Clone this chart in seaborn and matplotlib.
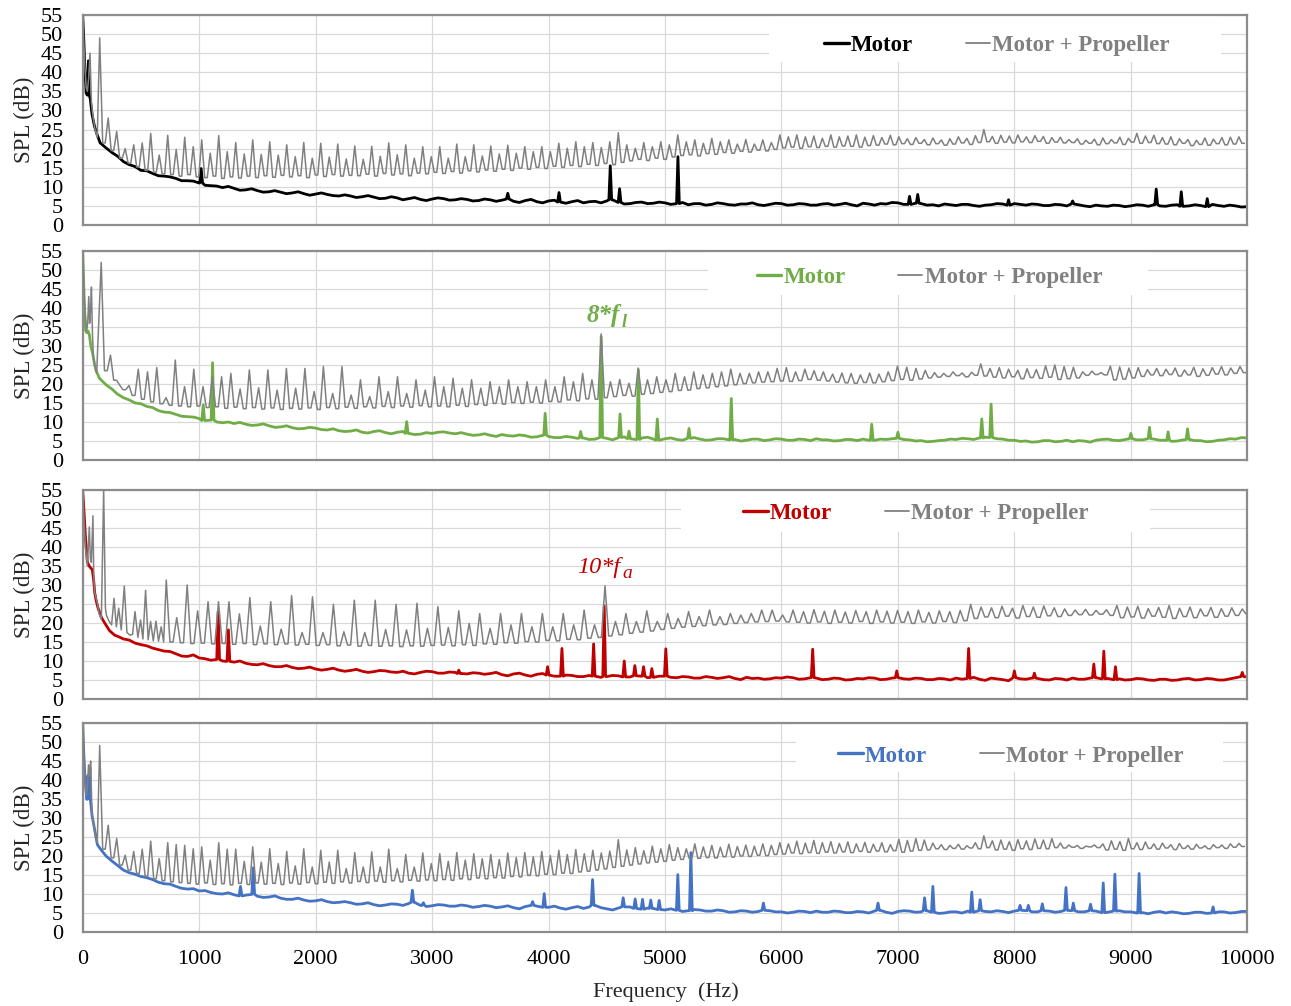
import numpy as np
import pandas as pd
import matplotlib
matplotlib.use("Agg")
import matplotlib.pyplot as plt
import seaborn as sns
from matplotlib.patches import Rectangle
from matplotlib.lines import Line2D

# ---------------------------------------------------------------- data
x_ticks = list(range(0, 10001, 1000))
y_ticks = list(range(0, 56, 5))
series_names = ["Motor", "Motor + Propeller"]
annot_text = [None, ("8*f", "l"), ("10*f", "a"), None]

# motor baseline samples every 50 Hz from 300 Hz to 10000 Hz (20 per row = 1000 Hz)
# ---------- panel 1 (black)
motor1_low_f = [0, 10, 20, 30, 40, 49, 57, 65, 80, 100, 120, 150, 200, 250]
motor1_low_db = [55, 48, 40, 34.5, 34, 43, 34, 33, 29, 26, 24, 21.5, 20.2, 19.0]
motor1_base = [18.0, 16.6, 15.8, 15.3, 14.3, 14.2, 13.5, 12.9, 12.8, 12.6, 12.2, 11.6, 11.6, 11.5, 11.0, 10.4, 10.3, 10.2, 9.8, 10.1,
               9.6, 9.1, 9.2, 9.5, 9.0, 8.6, 8.7, 9.0, 8.6, 8.2, 8.4, 8.7, 8.2, 7.8, 8.1, 8.4, 8.0, 7.7, 7.6, 7.9,
               7.6, 7.2, 7.4, 7.7, 7.3, 6.9, 7.0, 7.4, 7.1, 6.6, 6.9, 7.2, 6.7, 6.4, 6.8, 7.1, 6.9, 6.5, 6.6, 6.9,
               6.7, 6.3, 6.4, 6.8, 6.6, 6.2, 6.5, 6.8, 6.2, 5.9, 6.4, 6.7, 6.1, 5.8, 6.3, 6.5, 6.0, 5.7, 6.1, 6.4,
               5.8, 6.1, 6.2, 5.8, 6.3, 6.6, 5.9, 5.5, 5.6, 5.9, 6.0, 5.6, 5.7, 6.0, 5.8, 5.4, 5.6, 5.9, 5.3, 5.6,
               5.6, 5.2, 5.4, 5.8, 5.6, 5.3, 5.2, 5.5, 5.5, 5.8, 5.3, 5.1, 5.4, 5.7, 5.6, 5.2, 5.3, 5.6, 5.5, 5.2,
               5.2, 5.5, 5.6, 5.2, 5.4, 5.7, 5.3, 5.0, 5.7, 5.5, 5.2, 5.6, 5.5, 5.9, 5.8, 5.4, 5.4, 5.7, 5.6, 5.2,
               5.3, 5.0, 5.5, 5.3, 5.1, 5.4, 5.4, 5.1, 4.9, 5.2, 5.3, 5.6, 5.5, 5.2, 5.6, 5.4, 5.2, 5.5, 5.4, 5.1,
               5.1, 5.4, 5.3, 5.0, 5.5, 5.3, 5.0, 4.8, 5.2, 5.0, 4.9, 5.2, 5.1, 4.8, 5.0, 5.3, 5.2, 4.9, 5.3, 5.0,
               4.9, 5.2, 5.3, 4.9, 5.0, 5.3, 5.1, 4.8, 5.4, 5.1, 4.9, 5.2, 5.0, 4.7, 4.8]
motor1_peak_f = [1017, 3650, 4090, 4530, 4610, 5111, 7100, 7170, 7950, 8500, 9218, 9433, 9656]
motor1_peak_db = [14.8, 8.3, 8.5, 15.5, 9.5, 17.9, 7.5, 8.0, 6.6, 6.3, 9.4, 8.7, 6.9]

prop1_low_f = [0, 10, 20, 30, 40, 50, 63, 75, 90, 106, 125]
prop1_low_db = [55, 47, 41, 36, 35, 38, 45, 32, 28, 25, 23]
prop1_f0 = 73.0
prop1_k0 = 2
prop1_peaks = [49, 28, 24.5, 20, 21, 21.5, 24, 18.3, 23.5, 19.8,
               23, 20.5, 22.3, 18.8, 23.4, 19.2, 21.6, 18.6, 22.3, 18.5,
               21.8, 18.3, 21, 17.9, 21.6, 17.5, 21.4, 17.8, 21.2, 17.3,
               20.7, 17.2, 20.6, 18, 21.5, 18.4, 21, 17.5, 20.5, 17.9,
               20.5, 17.5, 21.2, 17.9, 21, 18.1, 20.7, 18.6, 20.9, 18.8,
               20.5, 19.2, 20.5, 19.2, 21.4, 20.1, 21.8, 20.5, 21.6, 20.3,
               21.8, 24.2, 21, 20.1, 21.6, 20.5, 21.8, 21, 23.6, 21.8,
               22.3, 21.4, 22.7, 21.8, 22.3, 21.2, 22.4, 21.2, 22.3, 21.6,
               23.6, 23.1, 23.6, 23.1, 23.3, 22.7, 23.6, 23.1, 23.3, 23.6,
               23.0, 23.4, 22.9, 23.5, 23.1, 22.6, 22.9, 22.4, 22.8, 22.3,
               22.6, 23.1, 22.7, 23.4, 25.0, 23.2, 23.5, 23.3, 23.6, 23.1,
               23.4, 23.2, 22.9, 23.0, 22.4, 22.6, 22.2, 22.5, 22.8, 22.4,
               23.0, 22.7, 24.0, 23.3, 23.5, 22.9, 23.1, 22.6, 22.4, 22.2,
               22.8, 22.5, 22.9, 23.0, 23.1]
prop1_troughs = [21.5, 19.5, 17.5, 16.2, 15.2, 14.3, 13.8, 13.4, 13.2, 12.8,
                 13.2, 12.6, 12.4, 12.8, 12.2, 12.6, 12.3, 12.8, 12.4, 12.9,
                 12.5, 13.0, 12.6, 12.9, 12.4, 13.1, 12.7, 13.2, 12.8, 13.0,
                 12.9, 13.3, 12.8, 13.5, 13.1, 13.4, 12.9, 13.6, 13.4, 13.8,
                 13.5, 14.0, 13.6, 14.2, 13.9, 14.4, 14.1, 14.6, 14.3, 14.9,
                 14.6, 15.1, 14.8, 15.4, 15.1, 15.6, 15.3, 15.9, 15.6, 16.1,
                 15.8, 16.4, 16.8, 17.2, 16.9, 17.5, 17.2, 17.8, 18.2, 18.4,
                 18.1, 18.7, 18.5, 19.0, 18.8, 19.3, 19.1, 19.6, 19.4, 19.8,
                 20.2, 20.4, 20.1, 20.5, 20.3, 20.6, 20.4, 20.7, 20.6, 20.4,
                 20.8, 20.9, 21.2, 21.0, 21.3, 21.1, 21.4, 21.0, 21.3, 20.9,
                 21.2, 21.5, 21.1, 21.6, 21.8, 21.4, 21.7, 21.5, 21.8, 21.6,
                 21.9, 21.4, 21.7, 21.5, 21.6, 21.2, 21.4, 21.0, 21.3, 21.5,
                 21.1, 21.7, 21.4, 21.6, 21.3, 21.2, 21.0, 21.4, 20.8, 21.1,
                 20.9, 21.3, 21.0, 21.2, 21.4]

# ---------- panel 2 (green)
motor2_low_f = [0, 8, 15, 25, 35, 45, 57, 70, 86, 100, 115, 144, 200, 250]
motor2_low_db = [55, 47, 40, 34, 33.5, 34, 33, 30, 28, 25.5, 23.5, 21.5, 19.8, 18.7]
motor2_base = [17.3, 16.4, 15.8, 15.0, 14.8, 14.1, 13.8, 13.0, 12.6, 12.5, 12.0, 11.5, 11.4, 11.3, 10.9, 10.4, 10.5, 10.0, 9.8, 10.0,
               9.6, 9.9, 9.4, 9.1, 9.2, 9.5, 9.0, 8.6, 8.7, 9.0, 8.5, 8.2, 8.3, 8.6, 8.4, 8.0, 7.9, 8.2, 7.7, 7.5,
               7.6, 7.9, 7.3, 7.1, 7.5, 7.7, 7.2, 6.9, 7.3, 7.5, 7.0, 6.7, 6.8, 7.2, 7.0, 7.3, 7.4, 7.1, 6.9, 7.2,
               6.8, 6.5, 6.6, 6.9, 6.5, 6.2, 6.7, 6.4, 6.3, 6.6, 6.4, 6.0, 6.1, 6.5, 6.2, 5.9, 5.9, 6.2, 6.0, 5.7,
               5.8, 5.4, 5.5, 5.9, 5.7, 5.3, 5.9, 6.1, 5.6, 5.4, 5.8, 6.0, 5.5, 5.2, 5.6, 5.8, 5.4, 5.2, 5.7, 5.9,
               5.5, 5.2, 5.3, 5.6, 5.6, 5.3, 5.4, 5.0, 5.2, 5.5, 5.5, 5.1, 5.3, 5.6, 5.5, 5.2, 5.2, 5.5, 5.4, 5.1,
               5.6, 5.3, 5.3, 5.0, 5.1, 5.4, 5.4, 5.1, 5.5, 5.2, 5.2, 5.5, 5.4, 5.6, 5.7, 5.4, 5.3, 5.0, 5.1, 4.8,
               4.9, 5.1, 5.2, 5.5, 5.4, 5.7, 5.6, 5.4, 5.8, 6.0, 5.9, 5.6, 5.5, 5.2, 5.2, 4.9, 5.0, 4.7, 4.8, 5.1,
               5.1, 4.8, 4.9, 5.2, 4.8, 5.1, 5.0, 4.7, 5.2, 5.4, 5.5, 5.2, 5.1, 5.4, 5.6, 5.3, 5.3, 5.6, 5.5, 5.2,
               5.2, 4.9, 5.0, 5.3, 5.4, 5.1, 5.1, 4.8, 4.9, 5.2, 5.3, 5.6, 5.5, 5.9, 5.8]
motor2_peak_f = [1035, 1115, 2782, 3971, 4276, 4452, 4614, 4691, 4771, 4934, 5206, 5569,
                 6775, 7000, 7720, 7800, 9000, 9160, 9320, 9487]
motor2_peak_db = [14.5, 25.6, 10.1, 12.3, 7.5, 32.5, 12.1, 7.6, 23.8, 10.8, 8.3, 16.2,
                  9.4, 7.3, 10.8, 14.7, 7.0, 8.6, 7.4, 8.2]

prop2_low_f = [0, 8, 15, 25, 34, 43, 52, 60, 68, 75, 84, 92, 105, 120]
prop2_low_db = [55, 48, 42, 37, 34, 36, 43, 36, 40, 45.5, 33, 27, 24.5, 23]
prop2_f0 = 79.5
prop2_k0 = 2
prop2_peaks = [52, 27.6, 19.7, 19.6, 23.9, 23.2, 24.3, 16.4, 26.3, 19.3,
               23.9, 19.3, 22.0, 21.9, 22.8, 18.7, 23.7, 19.0, 23.7, 18.4,
               24.1, 18.9, 24.1, 18.0, 24.6, 17.5, 24.6, 17.1, 21.1, 16.7,
               21.9, 18.0, 21.9, 17.5, 21.1, 18.4, 21.9, 19.3, 21.5, 18.9,
               21.1, 18.9, 20.6, 19.3, 21.1, 19.3, 20.6, 19.3, 21.1, 19.3,
               21.9, 20.6, 22.8, 21.1, 33.2, 20.6, 21.2, 20.2, 24.2, 21.1,
               21.9, 21.1, 22.8, 21.9, 23.2, 22.4, 22.8, 23.2, 23.9, 22.8,
               22.8, 23.2, 23.2, 24.1, 24.3, 23.2,
               23.9, 23.5, 23.2, 22.6, 22.9, 22.8, 22.4, 22.9, 22.6, 23.2,
               24.7, 24.4, 24.1, 23.6, 23.0, 22.8, 23.2, 22.9, 23.1, 25.3,
               24.1, 24.3, 23.9, 23.6, 24.0, 23.8, 24.8, 25.0, 24.6, 24.4,
               23.2, 23.4, 23.0, 24.7, 24.5, 24.2, 24.3, 23.8, 24.1, 23.9,
               24.2, 23.7, 24.4, 24.0, 24.3, 24.6, 24.2, 24.6]
prop2_troughs = [23.5, 21, 18.5, 17, 16, 15.3, 14.8, 14.4, 14.2, 14.0,
                 14.2, 13.8, 14.0, 13.6, 13.9, 13.5, 13.8, 13.4, 13.7, 13.3,
                 13.6, 13.4, 13.7, 13.3, 13.8, 13.5, 13.9, 13.6, 14.0, 13.7,
                 14.1, 13.8, 14.2, 13.9, 14.3, 14.0, 14.2, 14.0, 14.4, 14.1,
                 14.6, 14.4, 14.9, 14.7, 15.1, 14.9, 15.2, 15.0, 15.4, 15.3,
                 15.8, 15.6, 16.1, 16.0, 16.4, 16.7, 17.0, 16.8, 17.3, 17.5,
                 17.8, 18.0, 18.3, 18.4, 18.8, 19.0, 19.3, 19.5, 19.8, 20.1,
                 20.3, 20.5, 20.6, 20.8, 20.7, 20.9, 21.2, 21.0, 20.8, 20.5,
                 20.3, 20.2, 20.4, 20.3, 20.6, 20.9, 21.2, 21.0, 21.3, 21.6,
                 21.8, 22.0, 22.2, 21.9, 22.3, 22.1, 21.8, 21.6, 21.9, 21.4,
                 21.7, 21.5, 21.8, 21.2, 21.4, 21.6, 22.3, 22.5, 22.4, 21.1,
                 21.3, 21.6, 22.0, 22.4, 22.2, 22.5, 22.1, 22.4, 22.0, 22.3,
                 22.6, 22.4, 22.8, 23.0]

# ---------- panel 3 (red)
motor3_low_f = [0, 10, 23, 40, 60, 83, 95, 103, 115, 131, 160, 189, 230, 274]
motor3_low_db = [55, 50, 43, 36, 34.8, 34, 31, 28, 26, 24, 21.5, 20, 18, 16.8]
motor3_base = [16.5, 15.8, 15.5, 14.7, 14.3, 14.0, 13.4, 13.0, 12.6, 12.5, 11.9, 11.3, 11.2, 11.6, 10.8, 10.6, 10.2, 10.4, 10.0, 9.9,
               9.7, 10.0, 9.4, 9.1, 9.0, 9.3, 8.8, 8.5, 8.5, 8.8, 8.3, 8.0, 8.1, 8.4, 7.9, 7.6, 7.8, 8.1, 7.6, 7.3,
               7.5, 7.8, 7.3, 7.0, 7.2, 7.5, 7.4, 7.1, 7.0, 7.3, 6.8, 6.6, 7.0, 7.3, 7.2, 6.8, 6.8, 7.1, 7.0, 6.7,
               6.6, 6.9, 6.8, 6.5, 6.7, 7.0, 6.4, 6.1, 6.6, 6.8, 6.3, 6.0, 6.5, 6.7, 6.3, 6.0, 6.0, 6.3, 6.2, 5.9,
               5.9, 6.2, 6.0, 5.7, 5.9, 6.2, 6.1, 5.8, 5.8, 6.1, 6.0, 5.6, 5.7, 6.0, 6.0, 5.7, 5.6, 5.9, 5.8, 5.5,
               5.5, 5.9, 5.7, 5.4, 5.6, 5.9, 5.4, 5.1, 5.7, 5.4, 5.5, 5.2, 5.3, 5.6, 5.5, 5.8, 5.6, 5.2, 5.3, 5.6,
               5.5, 5.1, 5.2, 5.5, 5.4, 5.0, 5.1, 5.4, 5.3, 5.6, 5.5, 5.1, 5.2, 5.5, 5.6, 5.3, 5.2, 5.5, 5.4, 5.1,
               5.1, 5.4, 5.3, 5.0, 5.5, 5.2, 5.4, 5.7, 5.2, 4.9, 5.5, 5.3, 5.1, 4.8, 5.6, 5.3, 5.2, 5.5, 5.4, 5.1,
               5.0, 5.4, 5.3, 5.0, 5.5, 5.2, 5.2, 5.5, 5.6, 5.3, 5.4, 5.1, 5.3, 5.0, 5.1, 5.4, 5.3, 5.0, 4.9, 5.2,
               5.2, 4.9, 5.0, 5.3, 5.4, 5.0, 5.1, 5.4, 5.3, 5.0, 5.0, 5.3, 5.6, 5.9, 5.8]
motor3_peak_f = [1163, 1251, 3229, 3992, 4115, 4387, 4478, 4650, 4741, 4816, 4887, 5007,
                 6268, 6990, 7607, 8000, 8172, 8682, 8768, 8868, 9957]
motor3_peak_db = [23.0, 18.2, 7.6, 8.5, 13.3, 14.5, 24.5, 10.0, 8.8, 8.5, 8.0, 13.2,
                  13.1, 7.4, 13.3, 7.4, 6.8, 9.2, 12.6, 8.5, 7.0]

prop3_low_f = [0, 10, 23, 40, 57, 66, 74, 88, 95, 103, 126, 140, 160, 180, 195, 203,
               226, 248, 269, 289, 309, 331, 357, 380, 406, 428, 449, 474, 497, 517,
               540, 562, 583, 606, 629, 651, 674, 695]
prop3_low_db = [55, 48, 40, 35, 45.3, 37, 36, 48.2, 32, 28, 25.2, 22.5, 21, 55, 24, 22.1,
                20.5, 19.5, 26.5, 19.0, 23.9, 18.2, 29.7, 17.5, 16.8, 17.0, 23.0, 16.2, 20.8, 15.8,
                28.6, 15.6, 20.4, 15.3, 20.5, 15.2, 19.0, 15.0]
prop3_f0 = 89.7
prop3_k0 = 8
prop3_peaks = [31.3, 21.4, 30.0, 23.2, 25.6, 25.6, 25.6, 22.4, 26.7, 19.2,
               25.6, 18.4, 27.2, 17.5, 26.9, 17.5, 24.9, 17.7, 26.0, 17.5,
               26.0, 18.3, 24.9, 18.2, 25.2, 18.6, 24.3, 18.8, 23.2, 19.9,
               22.5, 18.6, 22.5, 19.5, 22.5, 19.0, 22.5, 19.0, 22.5, 19.5,
               23.4, 19.5, 29.8, 20.4, 22.5, 20.4, 23.2, 20.4, 22.5, 21.2,
               23.0, 21.7, 23.4, 21.7, 22.5, 22.1, 22.5, 23.4, 23.4, 22.1,
               23.4, 23.0, 23.5, 23.1, 23.4, 22.9, 23.3, 23.0, 23.4, 23.1,
               23.3, 23.0, 23.4, 22.8, 23.2, 23.0, 23.3, 24.9, 24.2, 24.0,
               24.4, 23.9, 24.6, 24.2, 24.5, 24.0, 23.7, 23.4, 23.6, 23.3,
               23.5, 24.6, 24.2, 24.4, 23.8, 24.1, 24.6, 23.9, 24.2, 23.7,
               24.1, 23.8, 24.0, 23.7]
prop3_troughs = [15.0, 14.8, 14.6, 14.7, 14.5, 14.6, 14.4, 14.6, 14.3, 14.5,
                 14.3, 14.5, 14.2, 14.4, 14.1, 14.3, 14.0, 14.2, 13.9, 14.1,
                 13.9, 14.0, 13.8, 14.0, 13.9, 14.1, 14.2, 14.0, 14.3, 14.1,
                 14.5, 14.4, 14.8, 14.7, 15.1, 15.0, 15.4, 15.3, 15.7, 15.6,
                 16.0, 16.2, 16.6, 16.9, 17.3, 17.6, 17.9, 18.3, 18.6, 18.9,
                 19.1, 19.3, 19.5, 19.6, 19.9, 20.1, 20.3, 20.4, 20.5, 20.3,
                 20.2, 20.0, 20.3, 19.9, 20.2, 20.0, 20.4, 19.9, 20.3, 20.0,
                 20.2, 19.9, 20.3, 20.0, 20.4, 20.1, 20.6, 21.2, 21.6, 21.4,
                 21.8, 21.3, 21.7, 21.5, 21.9, 21.7, 22.0, 22.2, 22.1, 22.3,
                 22.0, 21.4, 21.6, 21.3, 21.8, 21.5, 21.2, 21.7, 21.4, 21.9,
                 21.5, 21.8, 22.0, 22.4]

# ---------- panel 4 (blue)
motor4_low_f = [0, 8, 17, 28, 37, 46, 55, 62, 66, 80, 103, 126, 146, 200, 250]
motor4_low_db = [55, 48, 42, 37, 34.9, 41.2, 35, 43.4, 35, 30.7, 26.8, 23, 22.1, 20.0, 18.7]
motor4_base = [17.5, 16.3, 15.6, 15.2, 14.6, 14.3, 13.8, 13.1, 12.7, 12.6, 12.0, 11.5, 11.3, 11.4, 10.8, 10.9, 10.4, 10.1, 10.0, 10.3,
               9.8, 9.5, 9.7, 9.9, 9.4, 9.1, 9.2, 9.5, 8.9, 8.6, 8.6, 8.9, 8.4, 8.1, 8.2, 8.5, 8.0, 7.7, 7.8, 8.0,
               7.7, 7.3, 7.4, 7.7, 7.2, 6.9, 7.1, 7.4, 7.3, 7.0, 7.5, 7.8, 7.0, 6.7, 6.9, 7.2, 7.1, 6.8, 6.8, 7.1,
               6.9, 6.5, 6.7, 7.0, 6.8, 6.4, 6.6, 6.9, 6.4, 6.1, 6.7, 7.0, 6.8, 6.5, 6.5, 6.8, 6.3, 6.0, 6.4, 6.7,
               6.2, 6.6, 7.0, 6.4, 6.1, 5.8, 6.3, 6.6, 6.6, 6.2, 6.0, 6.3, 6.2, 5.9, 5.8, 6.1, 5.7, 5.4, 5.6, 5.9,
               5.8, 5.5, 5.5, 5.8, 5.6, 5.2, 5.3, 5.6, 5.5, 5.2, 5.4, 5.7, 5.6, 5.3, 5.3, 5.0, 5.2, 5.5, 5.4, 5.1,
               5.5, 5.2, 5.2, 5.5, 5.4, 5.1, 5.1, 5.4, 5.3, 5.0, 5.5, 5.7, 5.2, 4.9, 5.4, 5.6, 5.5, 5.2, 5.3, 5.6,
               5.2, 4.9, 5.0, 5.3, 5.3, 5.0, 5.5, 5.2, 5.6, 5.4, 5.3, 5.6, 5.4, 5.1, 5.5, 5.7, 5.6, 5.3, 5.3, 5.6,
               5.5, 5.2, 5.4, 5.7, 5.6, 5.3, 5.3, 5.6, 5.5, 5.1, 5.2, 5.5, 5.6, 5.3, 5.3, 5.0, 5.1, 4.8, 5.2, 5.4,
               5.0, 5.3, 5.1, 4.8, 4.9, 5.2, 5.2, 4.9, 5.0, 5.3, 5.3, 5.0, 5.1, 5.4, 5.4]
motor4_peak_f = [1355, 1464, 2831, 2925, 3863, 3963, 4378, 4641, 4744, 4807, 4878, 4950,
                 5110, 5222, 5845, 6829, 7229, 7300, 7634, 7706, 8049, 8120, 8240, 8443,
                 8506, 8654, 8763, 8863, 9071, 9706]
motor4_peak_db = [12.0, 16.9, 11.0, 7.7, 8.0, 10.1, 13.8, 9.0, 8.7, 8.6, 8.4, 8.3,
                  15.1, 20.9, 7.6, 7.6, 9.0, 12.0, 10.5, 8.5, 7.0, 7.0, 7.4, 11.7,
                  7.6, 7.3, 12.9, 15.2, 15.4, 6.6]

prop4_low_f = [0, 10, 20, 30, 40, 50, 60, 68, 80, 95, 110, 125]
prop4_low_db = [55, 47, 40, 36, 38, 44, 41, 45, 31, 28, 25, 23.5]
prop4_f0 = 73.0
prop4_k0 = 2
prop4_peaks = [49.1, 28.1, 24.6, 20.2, 21.2, 21.8, 23.9, 19.3, 23.5, 23.0,
               22.8, 21.9, 22.4, 18.9, 23.5, 21.8, 21.8, 18.6, 22.4, 18.4,
               21.9, 18.0, 21.2, 17.4, 21.9, 17.1, 21.5, 18.4, 21.5, 16.7,
               20.9, 17.1, 21.1, 17.1, 21.8, 16.7, 20.4, 17.1, 20.8,
               18.0, 20.6, 18.6, 20.9, 18.9, 20.6, 19.3, 20.4, 19.1, 20.8,
               19.6, 20.9, 19.8, 21.2, 20.1, 21.5, 20.4, 21.7, 20.6, 21.5,
               20.8, 21.3, 24.3, 21.6, 22.2, 21.4, 22.6, 21.9, 23.0, 22.2,
               21.9, 23.2, 22.4, 22.8, 22.3, 23.1, 22.5, 22.9, 22.6, 23.2,
               22.8, 23.5, 23.2, 23.9, 23.4, 24.1, 23.5, 23.8, 23.3, 23.7,
               23.2, 23.6, 23.1, 23.5, 23.0, 24.4, 24.1, 24.6, 24.2, 23.4,
               23.0, 22.8, 23.1, 22.7, 23.5, 25.3, 24.0, 24.2, 23.8, 24.3,
               24.0, 24.5, 24.2, 24.6, 23.4, 22.9, 22.8, 22.6, 22.9, 23.2,
               24.0, 23.8, 24.6, 23.5, 23.7, 23.2, 23.4, 23.0, 23.3, 22.8,
               23.1, 22.7, 23.0, 22.9, 23.2, 23.3]
prop4_troughs = [21.8, 19.5, 17.6, 16.3, 15.4, 14.7, 14.0, 13.5, 13.2, 13.0,
                 12.8, 12.6, 12.9, 12.5, 12.7, 12.4, 12.8, 12.5, 12.9, 12.6,
                 12.8, 12.5, 12.9, 12.6, 13.0, 12.7, 13.1, 12.8, 13.2, 12.9,
                 13.3, 13.0, 13.4, 13.1, 13.5, 13.2, 13.6, 13.4, 13.7, 13.5,
                 13.8, 13.6, 14.0, 13.8, 14.2, 14.0, 14.3, 14.2, 14.6, 14.5,
                 14.9, 14.8, 15.2, 15.1, 15.5, 15.4, 15.8, 16.0, 16.3, 16.6,
                 17.0, 17.3, 17.6, 17.9, 18.2, 18.4, 18.6, 18.9, 19.1, 19.3,
                 19.4, 19.6, 19.5, 19.8, 19.7, 20.0, 19.9, 20.2, 20.1, 20.4,
                 20.5, 20.8, 20.6, 20.9, 20.7, 21.0, 20.8, 21.1, 20.9, 21.2,
                 21.0, 21.3, 21.1, 21.4, 21.0, 21.3, 21.5, 21.6, 21.9, 21.7,
                 22.0, 21.8, 22.1, 21.9, 22.2, 21.6, 21.8, 21.5, 21.9, 21.7,
                 22.0, 21.9, 22.2, 22.1, 22.3, 22.0, 22.4, 22.2, 21.6, 21.8,
                 21.5, 21.9, 21.7, 22.0, 21.8, 22.1, 21.7, 22.0, 21.8, 22.1,
                 21.9, 22.2, 22.0, 22.3, 22.5]

motor_colors = ["#000000", "#70AD47", "#C00000", "#4472C4"]
prop_color = "#808080"

# ---------------------------------------------------------------- helpers
def motor_frame(low_f, low_db, base_db, peak_f, peak_db, start=300, step=50, foot=12):
    grid = [start + step * i for i in range(len(base_db))]
    pts = list(zip(low_f, low_db))
    for g, b in zip(grid, base_db):
        if all(abs(g - pf) > foot for pf in peak_f):
            pts.append((g, b))
    for pf, pv in zip(peak_f, peak_db):
        j = min(range(len(grid)), key=lambda i: abs(grid[i] - pf))
        pts += [(pf - foot, base_db[j]), (pf, pv), (pf + foot, base_db[j])]
    pts.sort()
    return pd.DataFrame(pts, columns=["Frequency", "SPL"])


def prop_frame(low_f, low_db, f0, k0, peaks, troughs, w=0.15):
    pts = list(zip(low_f, low_db))
    for i, (p, t) in enumerate(zip(peaks, troughs)):
        k = k0 + i
        pts += [(k * f0, p), ((k + 0.5 - w) * f0, t), ((k + 0.5 + w) * f0, t)]
    pts.sort()
    return pd.DataFrame(pts, columns=["Frequency", "SPL"])


motor_frames = [
    motor_frame(motor1_low_f, motor1_low_db, motor1_base, motor1_peak_f, motor1_peak_db),
    motor_frame(motor2_low_f, motor2_low_db, motor2_base, motor2_peak_f, motor2_peak_db),
    motor_frame(motor3_low_f, motor3_low_db, motor3_base, motor3_peak_f, motor3_peak_db),
    motor_frame(motor4_low_f, motor4_low_db, motor4_base, motor4_peak_f, motor4_peak_db),
]
prop_frames = [
    prop_frame(prop1_low_f, prop1_low_db, prop1_f0, prop1_k0, prop1_peaks, prop1_troughs),
    prop_frame(prop2_low_f, prop2_low_db, prop2_f0, prop2_k0, prop2_peaks, prop2_troughs),
    prop_frame(prop3_low_f, prop3_low_db, prop3_f0, prop3_k0, prop3_peaks, prop3_troughs),
    prop_frame(prop4_low_f, prop4_low_db, prop4_f0, prop4_k0, prop4_peaks, prop4_troughs),
]

# ---------------------------------------------------------------- figure
sns.set_theme(style="white")
plt.rcParams["font.family"] = ["Liberation Serif", "DejaVu Serif"]

W, H = 1291, 1006
fig = plt.figure(figsize=(W / 100, H / 100), dpi=100)

ax_left, ax_right = 82.7, 1247.3
panel_px = [(15, 225), (251, 460), (490, 699), (723, 932)]
legend_center_px = [(997, 45), (929.5, 277), (916, 513), (1011, 756)]
legend_box_px = [(769, 1221, 62), (708, 1148, 295), (681, 1150, 532), (796, 1223, 772)]

for i in range(4):
    top, bot = panel_px[i]
    ax = fig.add_axes([ax_left / W, 1 - bot / H, (ax_right - ax_left) / W, (bot - top) / H])
    ax.set_xlim(0, 10000)
    ax.set_ylim(0, 55)
    ax.set_xticks(x_ticks)
    ax.set_yticks(y_ticks)
    ax.grid(True, color="#d9d9d9", linewidth=0.9)
    ax.set_axisbelow(True)
    for s in ax.spines.values():
        s.set_color("#8c8c8c")
        s.set_linewidth(1.6)
    ax.tick_params(axis="both", length=0, labelsize=16, colors="black")
    ax.tick_params(axis="y", pad=14)
    ax.tick_params(axis="x", pad=13)
    if i < 3:
        ax.set_xticklabels([])

    # white legend background box (covers gridlines)
    x0, x1, yb = legend_box_px[i]
    ax.add_patch(Rectangle(((x0 - ax_left) / (ax_right - ax_left), (bot - yb) / (bot - top)),
                           (x1 - x0) / (ax_right - ax_left), (yb - top) / (bot - top),
                           transform=ax.transAxes, facecolor="white", edgecolor="none",
                           zorder=1))

    sns.lineplot(data=motor_frames[i], x="Frequency", y="SPL", ax=ax, color=motor_colors[i],
                 linewidth=2.0, estimator=None, sort=False, legend=False, zorder=2)
    sns.lineplot(data=prop_frames[i], x="Frequency", y="SPL", ax=ax, color=prop_color,
                 linewidth=1.1, estimator=None, sort=False, legend=False, zorder=3)

    ax.set_xlabel("")
    ax.set_ylabel("SPL (dB)", fontsize=16.5)
    ax.yaxis.set_label_coords((35 - ax_left) / (ax_right - ax_left), 0.5)

    handles = [Line2D([], [], color=motor_colors[i], linewidth=2.4),
               Line2D([], [], color=prop_color, linewidth=1.3)]
    cx, cy = legend_center_px[i]
    leg = ax.legend(handles, series_names, loc="center",
                    bbox_to_anchor=((cx - ax_left) / (ax_right - ax_left), (bot - cy) / (bot - top)),
                    ncol=2, frameon=False, handlelength=1.05, handletextpad=0.1,
                    columnspacing=2.3, borderpad=0, borderaxespad=0,
                    prop={"family": "Liberation Serif", "weight": "bold", "size": 16.5},
                    labelcolor=[motor_colors[i], prop_color])
    leg.set_zorder(5)

    if annot_text[i] is not None:
        main, sub = annot_text[i]
        if i == 1:
            ax.text(4614, 36.4, main, ha="right", va="baseline", color=motor_colors[i],
                    fontsize=18, fontweight="bold", fontstyle="italic", zorder=6)
            ax.text(4630, 34.9, sub, ha="left", va="baseline", color=motor_colors[i],
                    fontsize=13, fontweight="bold", fontstyle="italic", zorder=6)
        else:
            ax.text(4614, 33.2, main, ha="right", va="baseline", color=motor_colors[i],
                    fontsize=17.5, fontstyle="italic", zorder=6)
            ax.text(4632, 31.8, sub, ha="left", va="baseline", color=motor_colors[i],
                    fontsize=14, fontstyle="italic", zorder=6)

fig.text(665.5 / W, 1 - 992 / H, "Frequency  (Hz)", ha="center", va="center", fontsize=16)

fig.savefig("out.png", dpi=100)
